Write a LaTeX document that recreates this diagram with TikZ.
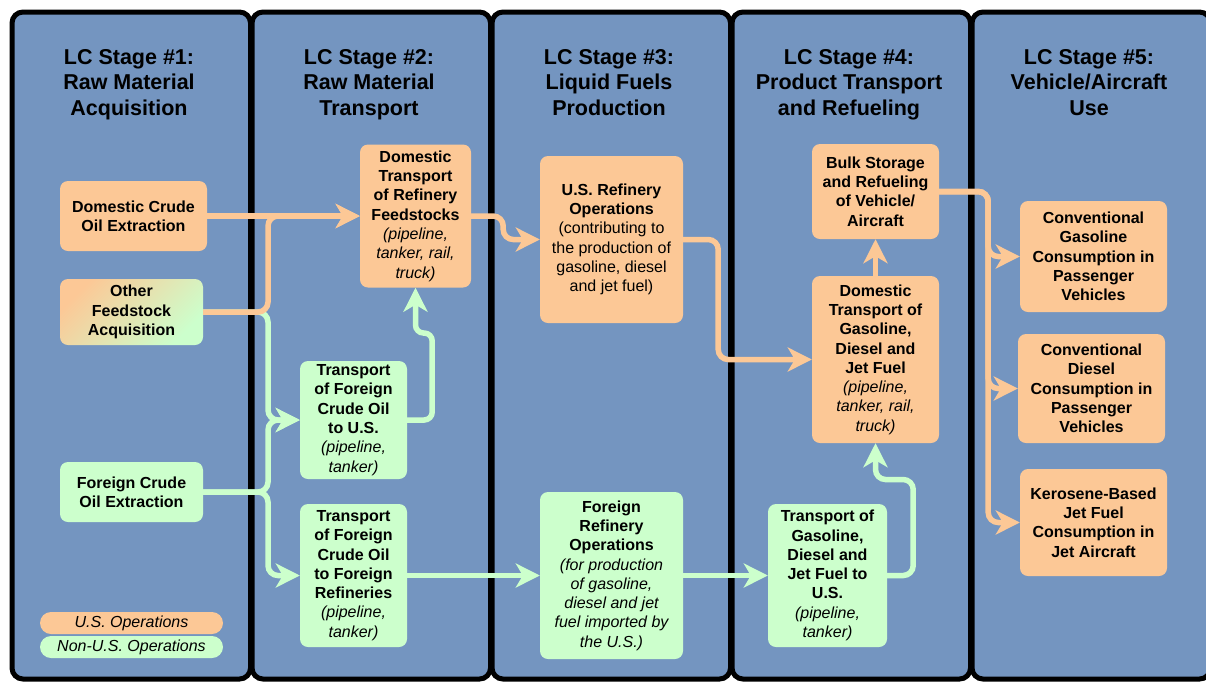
\documentclass[tikz,border=0pt]{standalone}
\usepackage{fontspec}
\setmainfont{Liberation Sans}
\usetikzlibrary{arrows.meta}
\definecolor{panelblue}{RGB}{116,149,192}
\definecolor{usop}{RGB}{252,200,150}
\definecolor{nonus}{RGB}{204,255,204}
\newcommand\itl[1]{{\mdseries\itshape #1}}
\begin{document}
\begin{tikzpicture}[x=1pt,y=-1pt,
  panel/.style={draw=black, line width=5pt, fill=panelblue, rounded corners=11pt},
  ttl/.style={font=\fontsize{21.5}{25.5}\selectfont\bfseries, align=center, inner sep=0pt, anchor=north},
  box/.style={rounded corners=8pt, inner sep=0pt, align=center, font=\fontsize{16}{19.3}\selectfont\bfseries},
  usbox/.style={box, fill=usop},
  nbox/.style={box, fill=nonus},
  oline/.style={draw=usop, line width=5.5pt, rounded corners=10pt},
  gline/.style={draw=nonus, line width=5.5pt, rounded corners=10pt},
  tipx/.style={-{Stealth[length=24pt,width=24pt,inset=7pt]}},
  legend/.style={box, rounded corners=11pt, minimum width=183pt, minimum height=22pt, font=\fontsize{16}{19}\selectfont\itshape}
]
\useasboundingbox (0,0) rectangle (1206,681);
\clip (0,0) rectangle (1206,681);
\fill[white] (0,0) rectangle (1206,681);
\foreach \i in {0,...,4} \path[panel] (12+240*\i,12) rectangle (250.5+240*\i,679);

% titles
\node[ttl] (t1) at (129,49) {LC Stage \#1:\\Raw Material\\Acquisition};
\node[ttl] (t2) at (369,49) {LC Stage \#2:\\Raw Material\\Transport};
\node[ttl] (t3) at (609,49) {LC Stage \#3:\\Liquid Fuels\\Production};
\node[ttl] (t4) at (849,49) {LC Stage \#4:\\Product Transport\\and Refueling};
\node[ttl] (t5) at (1089,49) {LC Stage \#5:\\Vehicle/Aircraft\\Use};

% stage 1
\node[usbox, minimum width=147pt, minimum height=70pt] (dce) at (133.5,216) {Domestic Crude\\Oil Extraction};
\node[box, top color=usop, bottom color=nonus, shading angle=45, minimum width=143pt, minimum height=66pt] (ofa) at (131.5,312) {Other\\Feedstock\\Acquisition};
\node[nbox, minimum width=143pt, minimum height=60pt] (fce) at (131.5,492) {Foreign Crude\\Oil Extraction};
\node[legend, fill=usop] (lus) at (131.5,623) {U.S. Operations};
\node[legend, fill=nonus] (lnus) at (131.5,647) {Non-U.S. Operations};

% stage 2
\node[usbox, minimum width=111pt, minimum height=143pt] (dtr) at (415.5,216) {Domestic\\Transport\\of Refinery\\Feedstocks\\\itl{(pipeline,}\\\itl{tanker, rail,}\\\itl{truck)}};
\node[nbox, minimum width=107pt, minimum height=118pt] (tfu) at (353.5,420) {Transport\\of Foreign\\Crude Oil\\to U.S.\\\itl{(pipeline,}\\\itl{tanker)}};
\node[nbox, minimum width=107pt, minimum height=143pt] (tff) at (353.5,575.5) {Transport\\of Foreign\\Crude Oil\\to Foreign\\Refineries\\\itl{(pipeline,}\\\itl{tanker)}};

% stage 3
\node[usbox, minimum width=143pt, minimum height=167pt] (usr) at (611.5,239.5) {U.S. Refinery\\Operations\\\mdseries(contributing to\\\mdseries the production of\\\mdseries gasoline, diesel\\\mdseries and jet fuel)};
\node[nbox, minimum width=143pt, minimum height=167pt] (fro) at (611.5,575.5) {Foreign\\Refinery\\Operations\\\itl{(for production}\\\itl{of gasoline,}\\\itl{diesel and jet}\\\itl{fuel imported by}\\\itl{the U.S.)}};

% stage 4
\node[usbox, minimum width=127pt, minimum height=95pt] (bulk) at (875.5,191.5) {Bulk Storage\\and Refueling\\of Vehicle/\\Aircraft};
\node[usbox, minimum width=127pt, minimum height=167pt] (dtg) at (875.5,359.5) {Domestic\\Transport of\\Gasoline,\\Diesel and\\Jet Fuel\\\itl{(pipeline,}\\\itl{tanker, rail,}\\\itl{truck)}};
\node[nbox, minimum width=119pt, minimum height=143pt] (tgu) at (827.5,575.5) {Transport of\\Gasoline,\\Diesel and\\Jet Fuel to\\U.S.\\\itl{(pipeline,}\\\itl{tanker)}};

% stage 5
\node[usbox, minimum width=147pt, minimum height=111pt] (cg) at (1093.5,256.5) {Conventional\\Gasoline\\Consumption in\\Passenger\\Vehicles};
\node[usbox, minimum width=147pt, minimum height=109pt] (cd) at (1091.5,388.5) {Conventional\\Diesel\\Consumption in\\Passenger\\Vehicles};
\node[usbox, minimum width=147pt, minimum height=107pt] (kj) at (1093.5,522.5) {Kerosene-Based\\Jet Fuel\\Consumption in\\Jet Aircraft};

% connectors
\coordinate (gx) at (268,0);
\draw[gline, tipx] (ofa.east) -- (ofa.east -| gx) |- (tfu.west);
\draw[gline, tipx] (fce.east) -- (fce.east -| gx) |- (tfu.west);
\draw[gline, tipx] (fce.east) -- (fce.east -| gx) |- (tff.west);
\draw[gline, tipx, rounded corners=8pt] (tfu.east) -- ++(25,0) -- ++(0,-87) -| (dtr.south);
\draw[gline, tipx] (tff.east) -- (fro.west);
\draw[gline, tipx] (fro.east) -- (tgu.west);
\draw[gline, tipx] (tgu.east) -- ++(26,0) -- ++(0,-96) -| (dtg.south);

\draw[oline, tipx] (dce.east) -- (dtr.west);
\draw[oline, tipx] (ofa.east) -- (ofa.east -| gx) |- (dtr.west);
\draw[oline, tipx] (dtr.east) -- ++(32,0) |- (usr.west);
\draw[oline, tipx] (usr.east) -- ++(35,0) |- (dtg.west);
\draw[oline, tipx] (dtg.north) -- (bulk.south);
\draw[oline, tipx] (bulk.east) -- ++(49,0) |- (cg.west);
\draw[oline, tipx] (bulk.east) -- ++(49,0) |- (cd.west);
\draw[oline, tipx] (bulk.east) -- ++(49,0) |- (kj.west);
\end{tikzpicture}
\end{document}
